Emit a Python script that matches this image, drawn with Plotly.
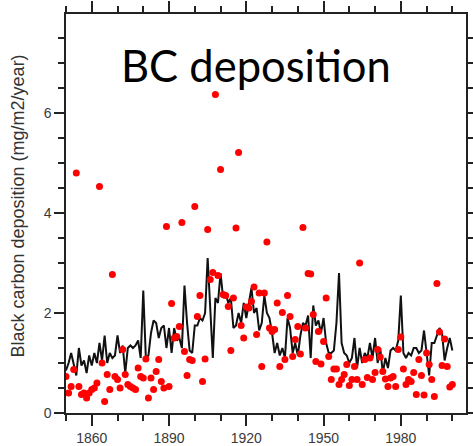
import plotly.graph_objects as go

# Annual black carbon deposition, 1850-2000 (mg/m2/year)
years = list(range(1850, 2001))

# Red points: individual annual values
observed = [
    0.73, 0.40, 0.53, 0.87, 4.80, 0.53, 0.37, 0.40, 0.30, 0.40,
    0.47, 0.50, 0.60, 4.53, 1.00, 0.23, 0.77, 0.47, 2.77, 0.73,
    0.67, 0.50, 1.27, 0.77, 0.57, 0.53, 0.50, 0.47, 0.90, 0.73,
    0.70, 1.08, 0.30, 0.70, 0.47, 0.83, 1.07, 0.63, 0.50, 3.73,
    0.53, 2.19, 1.50, 1.53, 1.73, 3.81, 1.23, 0.75, 1.07, 1.05,
    4.13, 1.93, 2.35, 0.63, 1.08, 3.67, 2.67, 2.81, 6.37, 2.75,
    4.87, 2.37, 2.35, 2.13, 1.25, 2.30, 3.70, 5.21, 1.75, 1.50,
    2.12, 2.10, 2.23, 2.52, 1.57, 2.40, 0.93, 2.40, 3.42, 1.70,
    1.63, 1.67, 2.20, 0.93, 2.01, 1.07, 2.35, 1.93, 1.13, 1.47,
    1.73, 1.18, 3.71, 1.70, 2.79, 2.78, 1.97, 1.03, 1.63, 0.98,
    1.43, 2.30, 1.13, 0.67, 0.88, 0.88, 0.57, 0.67, 0.77, 0.97,
    0.55, 0.67, 0.93, 0.67, 3.00, 0.57, 1.07, 0.71, 1.10, 0.67,
    0.81, 1.27, 1.12, 0.83, 0.68, 0.53, 0.70, 0.73, 0.53, 1.27,
    1.52, 0.88, 0.57, 0.67, 0.63, 0.81, 0.37, 1.07, 0.75, 0.36,
    1.20, 0.97, 0.67, 0.33, 2.59, 1.62, 0.95, 1.48, 0.93, 0.52,
    0.57,
]

# Black line: modelled annual deposition
modelled = [
    0.85, 1.00, 1.20, 1.00, 0.75, 1.30, 0.95, 1.05, 0.80, 1.15,
    0.95, 1.20, 1.00, 1.40, 1.05, 1.55, 1.00, 1.20, 1.10, 1.15,
    1.55, 1.20, 1.35, 0.80, 1.30, 1.35, 1.30, 1.35, 1.45, 1.10,
    2.45, 1.10, 1.15, 1.60, 1.85, 1.80, 1.50, 1.70, 1.75, 1.30,
    1.70, 1.20, 1.70, 1.45, 1.50, 1.30, 2.55, 1.80, 1.25, 1.20,
    1.75, 1.75, 1.90, 1.85, 2.00, 3.10, 2.20, 1.10, 2.30, 2.20,
    2.80, 2.30, 2.40, 2.20, 2.30, 1.70, 1.75, 2.00, 1.80, 2.20,
    1.90, 2.20, 2.50, 2.00, 2.10, 1.65, 1.80, 2.35, 2.00, 1.90,
    1.60, 1.20, 1.40, 1.15, 1.30, 1.10, 1.90, 1.70, 1.20, 1.40,
    1.15, 1.55, 1.80, 1.75, 1.95, 1.10, 2.15, 1.75, 1.85, 1.60,
    1.90, 1.40, 1.20, 1.20, 1.25, 1.80, 2.80, 1.40, 1.20, 1.15,
    1.00, 1.10, 1.50, 0.90, 1.30, 1.00, 1.20, 1.10, 1.40, 1.10,
    1.50, 1.00, 1.30, 0.80, 1.10, 0.90, 1.25, 1.30, 1.25, 1.45,
    2.35, 1.20, 1.10, 1.20, 1.15, 1.30, 1.30, 1.20, 1.25, 1.65,
    1.15, 0.75, 1.40, 1.40, 1.55, 1.70, 1.60, 1.05, 1.30, 1.50,
    1.25,
]

x_tick_vals = [1860, 1890, 1920, 1950, 1980]
x_tick_text = ["1860", "1890", "1920", "1950", "1980"]
y_tick_vals = [0, 2, 4, 6, 8]
y_tick_text = ["0", "2", "4", "6", ""]

chart_title = "BC deposition"
y_title = "Black carbon deposition (mg/m2/year)"

fig = go.Figure()

fig.add_trace(go.Scatter(
    x=years, y=modelled, mode="lines",
    line=dict(color="#111111", width=2),
    hoverinfo="skip",
))
fig.add_trace(go.Scatter(
    x=years, y=observed, mode="markers",
    marker=dict(color="#ff0000", size=7, line=dict(width=0)),
))

tick_font = dict(family="Liberation Sans, Arial, sans-serif", size=14, color="#3a3a3a")

fig.update_xaxes(
    range=[1850, 2005.3], automargin=False,
    tickmode="array", tickvals=x_tick_vals, ticktext=x_tick_text,
    ticks="outside", ticklen=11, tickwidth=1.5, tickcolor="#222",
    minor=dict(dtick=10, tick0=1850, ticks="outside", ticklen=6,
               tickwidth=1.5, tickcolor="#222"),
    showline=True, linecolor="#222", linewidth=1.5, mirror="ticks",
    showgrid=False, zeroline=False,
    tickfont=tick_font,
)
fig.update_yaxes(
    range=[0, 7.98], automargin=False,
    tickmode="array", tickvals=y_tick_vals, ticktext=y_tick_text,
    ticks="outside", ticklen=10, tickwidth=1.5, tickcolor="#222",
    minor=dict(dtick=0.5, tick0=0, ticks="outside", ticklen=6,
               tickwidth=1.5, tickcolor="#222"),
    showline=True, linecolor="#222", linewidth=1.5, mirror="ticks",
    showgrid=False, zeroline=False,
    tickfont=tick_font,
)

fig.add_annotation(
    text=chart_title, xref="paper", yref="paper",
    x=0.475, y=0.872, xanchor="center", yanchor="middle",
    showarrow=False,
    font=dict(family="Lato, sans-serif", size=43.5, color="#000"),
)
fig.add_annotation(
    text=y_title, xref="paper", yref="paper",
    x=-0.12, y=0.5175, xanchor="center", yanchor="middle",
    textangle=-90, showarrow=False,
    font=dict(family="Liberation Sans, Arial, sans-serif", size=18, color="#333"),
)

fig.update_layout(
    width=473, height=446,
    margin=dict(l=66, r=7, t=14, b=33),
    paper_bgcolor="white", plot_bgcolor="white",
    showlegend=False,
)

fig.write_html("out.html")
